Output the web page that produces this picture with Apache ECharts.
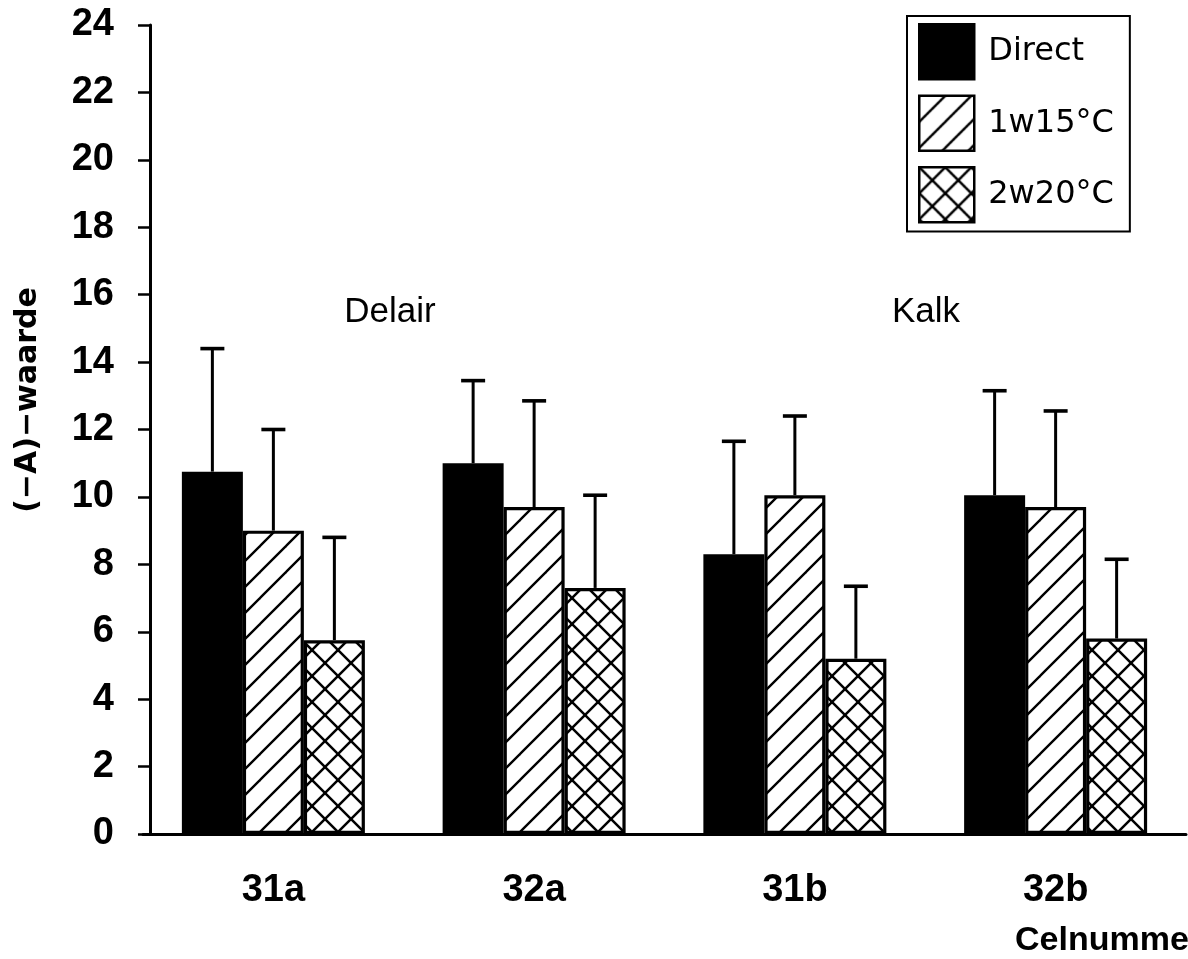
<!DOCTYPE html>
<html>
<head>
<meta charset="utf-8">
<script src="https://cdn.jsdelivr.net/npm/echarts@6/dist/echarts.min.js"></script>
<style>
  html, body { margin: 0; padding: 0; background: #fff; }
  #chart { width: 1188px; height: 959px; }
</style>
</head>
<body>
<div id="chart"></div>
<script>
// Cell numbers along the x axis
const categories = ['31a', '32a', '31b', '32b'];
const seriesNames = ['Direct', '1w15°C', '2w20°C'];
// Mean (-A) values per treatment
const direct = [10.75, 11.0, 8.3, 10.05];
const w1t15 = [9.0, 9.7, 10.05, 9.7];
const w2t20 = [5.75, 7.3, 5.2, 5.8];
// Upper error (standard deviation) per treatment
const directErr = [3.65, 2.45, 3.35, 3.1];
const w1t15Err = [3.0, 3.15, 2.35, 2.85];
const w2t20Err = [3.05, 2.75, 2.15, 2.35];
const yTicks = [0, 2, 4, 6, 8, 10, 12, 14, 16, 18, 20, 22, 24];

const BAR_W = 61;

// Tiled hatch patterns: single diagonal and crosshatch
function makePattern(cross, lw) {
  const P = 26;
  const c = document.createElement('canvas');
  c.width = P; c.height = P;
  const ctx = c.getContext('2d');
  ctx.fillStyle = '#fff';
  ctx.fillRect(0, 0, P, P);
  ctx.strokeStyle = '#000';
  ctx.lineWidth = lw;
  ctx.lineCap = 'square';
  for (let k = -1; k <= 1; k++) {
    ctx.beginPath();
    ctx.moveTo(k * P, P);
    ctx.lineTo(k * P + P, 0);
    ctx.stroke();
    if (cross) {
      ctx.beginPath();
      ctx.moveTo(k * P, 0);
      ctx.lineTo(k * P + P, P);
      ctx.stroke();
    }
  }
  return { image: c, repeat: 'repeat' };
}

const fills = ['#000', makePattern(false, 2.4), makePattern(true, 2.5)];
const means = [direct, w1t15, w2t20];
const errs = [directErr, w1t15Err, w2t20Err];

const barSeries = seriesNames.map((name, s) => ({
  name: name,
  type: 'bar',
  barWidth: BAR_W,
  barGap: '0%',
  data: means[s],
  itemStyle: { color: fills[s], borderColor: '#000', borderWidth: 3.2 },
  emphasis: { disabled: true },
  z: 2
}));

const errData = [];
for (let s = 0; s < 3; s++) {
  for (let i = 0; i < categories.length; i++) {
    errData.push([i, means[s][i], errs[s][i], s]);
  }
}

const errSeries = {
  type: 'custom',
  z: 4,
  silent: true,
  encode: { x: 0, y: 1 },
  data: errData,
  renderItem: function (params, api) {
    const i = api.value(0), m = api.value(1), e = api.value(2), s = api.value(3);
    const base = api.coord([i, m]);
    const top = api.coord([i, m + e]);
    const x = base[0] + (s - 1) * BAR_W;
    return {
      type: 'group',
      children: [
        { type: 'line', shape: { x1: x, y1: base[1], x2: x, y2: top[1] },
          style: { stroke: '#000', lineWidth: 3 } },
        { type: 'line', shape: { x1: x - 12, y1: top[1], x2: x + 12, y2: top[1] },
          style: { stroke: '#000', lineWidth: 3.6 } }
      ]
    };
  }
};

const chart = echarts.init(document.getElementById('chart'), null, { renderer: 'canvas' });
chart.setOption({
  backgroundColor: '#fff',
  animation: false,
  grid: { left: 143, right: 2, top: 25, bottom: 125, containLabel: false },
  legend: {
    data: seriesNames,
    orient: 'vertical',
    icon: 'rect',
    left: 907,
    top: 16,
    itemWidth: 55,
    itemHeight: 55,
    itemGap: 14,
    padding: [7, 16, 8, 11],
    borderColor: '#000',
    borderWidth: 2,
    backgroundColor: '#fff',
    selectedMode: false,
    itemStyle: { borderColor: '#000', borderWidth: 2.5 },
    textStyle: {
      fontFamily: 'DejaVu Sans',
      fontSize: 32,
      color: '#000',
      padding: [0, 0, 0, 9]
    }
  },
  xAxis: {
    type: 'category',
    data: categories,
    axisLine: { lineStyle: { color: '#000', width: 3 } },
    axisTick: { alignWithLabel: true, length: 17, lineStyle: { color: '#000', width: 2.5 } },
    axisLabel: {
      margin: 38,
      color: '#000',
      fontFamily: 'Liberation Sans',
      fontWeight: 'bold',
      fontSize: 38
    },
    splitLine: { show: false }
  },
  yAxis: {
    type: 'value',
    min: yTicks[0],
    max: yTicks[yTicks.length - 1],
    interval: 2,
    offset: -7,
    axisLine: { show: true, lineStyle: { color: '#000', width: 3 } },
    axisTick: { show: true, length: 12, lineStyle: { color: '#000', width: 2.5 } },
    axisLabel: {
      margin: 36,
      color: '#000',
      fontFamily: 'Liberation Sans',
      fontWeight: 'bold',
      fontSize: 38
    },
    splitLine: { show: false }
  },
  graphic: [
    {
      type: 'text', x: 28, y: 400, rotation: Math.PI / 2,
      style: { text: '(−A)−waarde', fontFamily: 'DejaVu Sans', fontWeight: 'bold',
        fontSize: 30, fill: '#000', align: 'center', verticalAlign: 'middle' }
    },
    {
      type: 'text', x: 390, y: 312,
      style: { text: 'Delair', fontFamily: 'Liberation Sans', fontSize: 35,
        fill: '#000', align: 'center', verticalAlign: 'middle' }
    },
    {
      type: 'text', x: 926, y: 312,
      style: { text: 'Kalk', fontFamily: 'Liberation Sans', fontSize: 35,
        fill: '#000', align: 'center', verticalAlign: 'middle' }
    },
    {
      type: 'text', x: 1015, y: 941,
      style: { text: 'Celnummer', fontFamily: 'Liberation Sans', fontWeight: 'bold',
        fontSize: 34, fill: '#000', align: 'left', verticalAlign: 'middle' }
    }
  ],
  series: barSeries.concat([errSeries])
});
</script>
</body>
</html>
